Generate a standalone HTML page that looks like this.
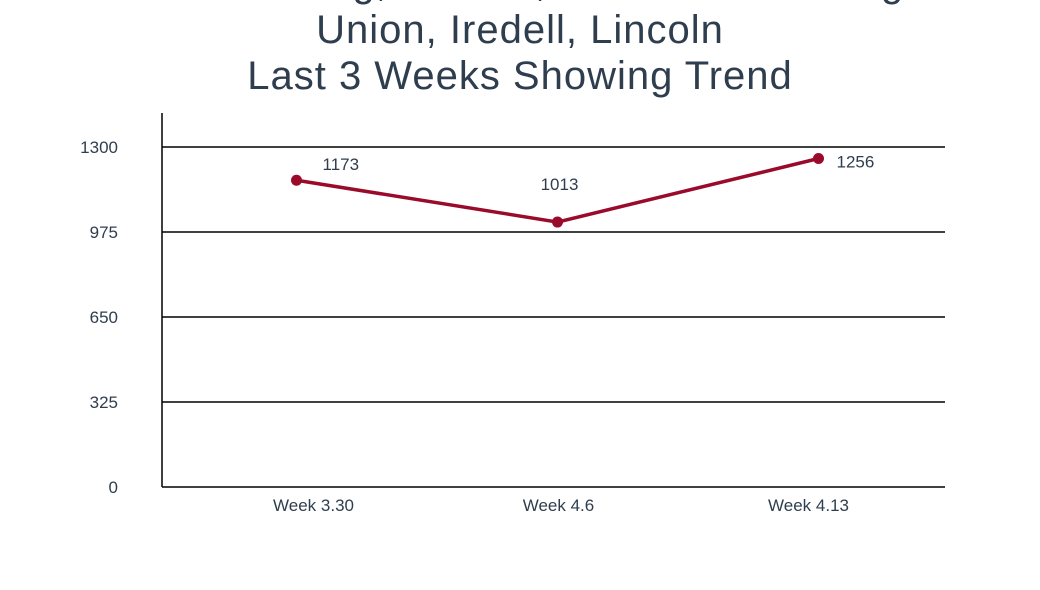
<!DOCTYPE html>
<html><head><meta charset="utf-8"><style>
body{margin:0;background:#fff;font-family:"Liberation Sans",sans-serif;}
</style></head><body>
<svg width="1040" height="585" viewBox="0 0 1040 585">
<text x="520" y="-4" text-anchor="middle" font-size="40" letter-spacing="1" fill="#2f3e4e">Mecklenburg, Gaston, Cabarrus Showing</text>
<text x="520" y="43" text-anchor="middle" font-size="40" letter-spacing="1" fill="#2f3e4e">Union, Iredell, Lincoln</text>
<text x="520" y="89" text-anchor="middle" font-size="40" letter-spacing="1" fill="#2f3e4e">Last 3 Weeks Showing Trend</text>
<g id="grid"></g><g id="plot"></g>
</svg>
<script>
const categories=["Week 3.30","Week 4.6","Week 4.13"];
const values=[1173,1013,1256];
const yTicks=[0,325,650,975,1300];
const NS="http://www.w3.org/2000/svg";
const x0=162,x1=945,yb=487,yt=147,ymax=1300;
const y=v=>yb-(v/ymax)*(yb-yt);
const band=(x1-x0)/categories.length;
const x=i=>x0+4+band*(i+0.5);
function mk(tag,attrs,parent,text){const e=document.createElementNS(NS,tag);for(const k in attrs)e.setAttribute(k,attrs[k]);if(text!==undefined)e.textContent=text;parent.appendChild(e);return e;}
const g=document.getElementById('grid'),p=document.getElementById('plot');
yTicks.forEach(t=>{
 if(t>0){const l=mk('line',{x1:x0,x2:x1,y1:y(t),y2:y(t),stroke:'#000','stroke-width':1.5},g);
 
 }
 const tx=mk('text',{x:118,y:y(t)+6,'text-anchor':'end','font-size':17,fill:'#2f3e4e'},g,String(t));
 
 
});
const ax=mk('line',{x1:x0,x2:x0,y1:113,y2:yb,stroke:'#000','stroke-width':1.5},g);


const xa=mk('line',{x1:x0,x2:x1,y1:yb,y2:yb,stroke:'#000','stroke-width':1.5},g);


const tickOff=[17,1,-10];
categories.forEach((c,i)=>{
 const t=mk('text',{x:x(i)+tickOff[i],y:511,'text-anchor':'middle','font-size':17,fill:'#2f3e4e'},g,c);
 
 
});
const line=mk('polyline',{points:values.map((v,i)=>x(i)+','+y(v)).join(' '),fill:'none',stroke:'#9a0b2b','stroke-width':3.5},p);


const lx=[26,2,18],ly=[-10,-32,9],anc=['start','middle','start'];
values.forEach((v,i)=>{
 const c=mk('circle',{cx:x(i),cy:y(v),r:5.5,fill:'#9a0b2b'},p);
 
 
 const t=mk('text',{x:x(i)+lx[i],y:y(v)+ly[i],'text-anchor':anc[i],'font-size':17,fill:'#2f3e4e'},p,String(v));
 
 
});
</script>
</body></html>
